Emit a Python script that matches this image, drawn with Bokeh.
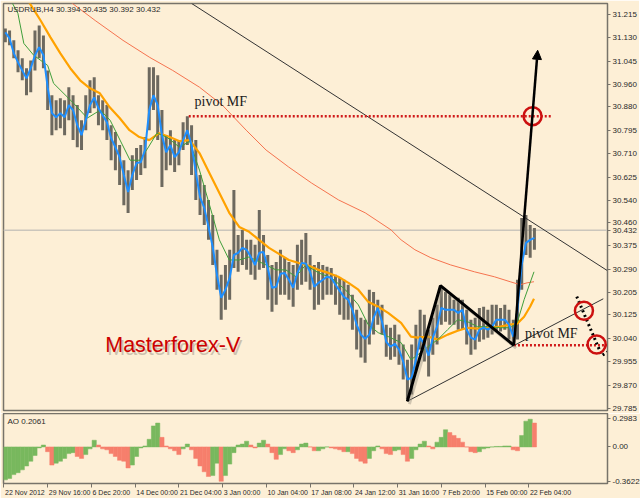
from bokeh.plotting import figure
from bokeh.models import (Range1d, FixedTicker, PrintfTickFormatter, CustomJSTickFormatter,
                          Span, Label, Arrow, NormalHead)
from bokeh.layouts import column
from bokeh.embed import file_html
from bokeh.resources import INLINE

# ---------------- data ----------------
symbol = "USDRUB,H4"
last_open, last_high, last_low, last_close = 30.394, 30.435, 30.392, 30.432
ao_last = 0.2061

# bar index (H4 bars since 22 Nov 2012), one drawn bar every 3 H4 bars
bars = [1 + 3 * i for i in range(126)]

high = [31.164, 31.157, 31.121, 31.085, 31.056, 31.020, 31.048, 31.157, 31.175, 31.139,
        31.012, 30.922, 30.904, 30.911, 30.904, 30.951, 30.922, 30.886, 30.831, 30.922,
        30.976, 30.987, 30.922, 30.904, 30.886, 30.813, 30.788, 30.741, 30.686, 30.650,
        30.704, 30.730, 30.741, 30.770, 31.023, 31.023, 30.994, 30.868, 30.777, 30.795,
        30.759, 30.759, 30.824, 30.846, 30.813, 30.759, 30.632, 30.596, 30.542, 30.487,
        30.361, 30.270, 30.306, 30.361, 30.578, 30.415, 30.433, 30.397, 30.397, 30.379,
        30.505, 30.415, 30.342, 30.306, 30.317, 30.361, 30.332, 30.317, 30.306, 30.379,
        30.397, 30.422, 30.342, 30.306, 30.317, 30.306, 30.299, 30.295, 30.270, 30.259,
        30.252, 30.234, 30.198, 30.143, 30.114, 30.107, 30.216, 30.208, 30.180, 30.161,
        30.089, 30.078, 30.089, 30.053, 30.017, 29.962, 30.017, 30.089, 30.143, 30.125,
        30.071, 30.114, 30.161, 30.227, 30.208, 30.198, 30.180, 30.187, 30.180, 30.143,
        30.107, 30.114, 30.150, 30.154, 30.143, 30.161, 30.161, 30.150, 30.161, 30.143,
        30.107, 30.252, 30.476, 30.487, 30.451, 30.440]

low = [31.114, 31.103, 31.056, 31.005, 30.976, 30.922, 30.933, 31.012, 31.056, 31.020,
       30.868, 30.777, 30.795, 30.802, 30.777, 30.831, 30.759, 30.733, 30.723, 30.795,
       30.857, 30.875, 30.813, 30.795, 30.759, 30.686, 30.650, 30.596, 30.523, 30.494,
       30.578, 30.614, 30.632, 30.657, 30.795, 30.868, 30.759, 30.589, 30.650, 30.668,
       30.643, 30.668, 30.723, 30.741, 30.632, 30.542, 30.487, 30.451, 30.397, 30.306,
       30.216, 30.107, 30.143, 30.180, 30.295, 30.281, 30.306, 30.288, 30.270, 30.252,
       30.288, 30.295, 30.180, 30.136, 30.161, 30.198, 30.198, 30.180, 30.154, 30.216,
       30.234, 30.245, 30.216, 30.143, 30.161, 30.180, 30.198, 30.198, 30.161, 30.125,
       30.107, 30.107, 30.071, 29.999, 29.970, 29.951, 30.017, 30.053, 30.089, 30.053,
       29.973, 29.962, 29.973, 29.944, 29.890, 29.818, 29.836, 29.919, 29.999, 29.955,
       29.901, 29.980, 30.017, 30.089, 30.100, 30.089, 30.089, 30.071, 30.071, 30.017,
       29.980, 29.999, 30.027, 30.035, 30.042, 30.053, 30.064, 30.064, 30.071, 30.035,
       30.017, 30.035, 30.216, 30.342, 30.332, 30.361]

ma_fast = [31.150, 31.128, 31.074, 31.041, 31.012, 30.983, 31.020, 31.067, 31.096, 31.067,
           30.951, 30.857, 30.842, 30.857, 30.842, 30.886, 30.868, 30.813, 30.777, 30.831,
           30.886, 30.914, 30.875, 30.849, 30.824, 30.766, 30.733, 30.697, 30.632, 30.571,
           30.632, 30.676, 30.679, 30.723, 30.868, 30.922, 30.886, 30.777, 30.715, 30.741,
           30.697, 30.715, 30.759, 30.795, 30.741, 30.643, 30.552, 30.513, 30.444, 30.371,
           30.270, 30.187, 30.216, 30.259, 30.342, 30.350, 30.368, 30.361, 30.335, 30.306,
           30.350, 30.353, 30.295, 30.223, 30.227, 30.274, 30.277, 30.252, 30.223, 30.277,
           30.313, 30.310, 30.281, 30.227, 30.241, 30.252, 30.263, 30.259, 30.234, 30.212,
           30.190, 30.180, 30.143, 30.089, 30.053, 30.038, 30.053, 30.114, 30.150, 30.100,
           30.027, 30.009, 30.020, 29.999, 29.955, 29.890, 29.897, 29.962, 30.042, 30.017,
           29.977, 30.042, 30.082, 30.150, 30.143, 30.143, 30.143, 30.132, 30.143, 30.071,
           30.042, 30.035, 30.071, 30.078, 30.071, 30.082, 30.107, 30.107, 30.107, 30.089,
           30.046, 30.143, 30.306, 30.386, 30.397, 30.404]

ma_mid_x = [4.9, 9.9, 14.1, 21.1, 31, 35.2, 45, 49.3, 59.1, 68.3,
            75.3, 82.3, 89.4, 96.4, 102, 108.4, 115.4, 124.5, 131.6, 138.6,
            145.7, 152.7, 159.7, 166.8, 173.8, 182.9, 192.8, 199.8, 206.9, 213.9,
            223, 232.2, 242, 251.2, 258.2, 265.3, 272.3, 281.5, 288.5, 295.5,
            300.5, 307.5, 314.5, 321.6, 328.6, 335.6, 342.7, 351.8, 358.8, 363.8,
            368.7, 375.7]
ma_mid_y = [31.266, 31.219, 31.110, 31.067, 31.030, 30.965, 30.915, 30.893, 30.839, 30.868,
            30.831, 30.759, 30.686, 30.686, 30.730, 30.784, 30.770, 30.733, 30.755, 30.650,
            30.524, 30.397, 30.324, 30.324, 30.335, 30.313, 30.288, 30.288, 30.263, 30.306,
            30.277, 30.259, 30.216, 30.161, 30.089, 30.060, 30.046, 30.024, 29.962, 29.988,
            30.009, 30.035, 30.071, 30.107, 30.100, 30.082, 30.082, 30.078, 30.078, 30.096,
            30.180, 30.281]

ma_slow_x = [17, 26, 33, 40, 47, 54, 61, 68, 75, 82,
             89, 96, 103, 110, 117.5, 124.5, 131.6, 138.6, 145.7, 152.7,
             159.7, 166.8, 173.8, 180.8, 187.9, 194.9, 201.9, 209, 216, 223,
             230, 237, 244.2, 251.2, 258.2, 265.3, 272.3, 281.5, 288.5, 293.4,
             300.5, 307.5, 314.5, 321.6, 328.6, 335.6, 342.7, 351.8, 358.8, 363.8,
             368.7, 372.9, 375.7]
ma_slow_y = [31.266, 31.193, 31.132, 31.074, 31.020, 30.976, 30.947, 30.929, 30.878, 30.839,
             30.795, 30.770, 30.759, 30.784, 30.770, 30.755, 30.759, 30.712, 30.639, 30.567,
             30.495, 30.444, 30.426, 30.397, 30.368, 30.346, 30.324, 30.313, 30.303, 30.288,
             30.277, 30.263, 30.241, 30.216, 30.172, 30.154, 30.132, 30.096, 30.046, 30.042,
             30.046, 30.035, 30.053, 30.067, 30.078, 30.075, 30.078, 30.082, 30.089, 30.093,
             30.118, 30.154, 30.183]

ma_long_x = [45.7, 64.7, 84.4, 103.4, 119.6, 138.6, 154.8, 171.7, 185.8, 201.9,
             218.1, 237.1, 256.1, 274.4, 281.5, 291.3, 302.6, 316.6, 333.5, 347.6,
             358.8, 365.9, 370.8, 375.7]
ma_long_y = [31.266, 31.193, 31.121, 31.059, 31.012, 30.951, 30.886, 30.795, 30.723, 30.661,
             30.603, 30.542, 30.495, 30.433, 30.397, 30.361, 30.332, 30.306, 30.281, 30.263,
             30.245, 30.234, 30.241, 30.245]

ao = [-0.345, -0.33, -0.29, -0.27, -0.24, -0.20, -0.15, -0.09, -0.01, 0.02,
      -0.05, -0.19, -0.17, -0.15, -0.12, -0.07, -0.06, -0.10, -0.12, -0.08,
      -0.02, 0.07, 0.02, -0.02, -0.03, -0.07, -0.10, -0.14, -0.15, -0.22,
      -0.19, -0.10, -0.01, 0.01, 0.08, 0.22, 0.25, 0.10, 0.01, -0.02,
      -0.04, -0.08, -0.02, 0.03, -0.03, -0.12, -0.20, -0.26, -0.31, -0.30,
      -0.17, -0.36, -0.30, -0.18, -0.06, 0.02, 0.03, 0.06, 0.02, -0.01,
      0.04, 0.07, 0.03, -0.06, -0.13, -0.08, -0.02, -0.04, -0.06, -0.03,
      0.03, 0.04, 0.00, -0.04, -0.04, -0.02, 0.00, -0.01, -0.02, -0.03,
      -0.05, -0.05, -0.07, -0.12, -0.15, -0.17, -0.12, -0.04, 0.01, -0.02,
      -0.07, -0.08, -0.04, -0.03, -0.08, -0.15, -0.12, -0.03, 0.03, 0.06,
      0.01, -0.02, 0.05, 0.10, 0.18, 0.15, 0.12, 0.09, 0.05, 0.00,
      -0.05, -0.06, -0.05, -0.02, -0.01, 0.00, 0.005, 0.005, 0.01, 0.01,
      -0.03, -0.04, 0.12, 0.27, 0.29, 0.25]

price_ticks = [31.215, 31.130, 31.045, 30.960, 30.880, 30.795, 30.710, 30.625, 30.540,
               30.460, 30.375, 30.290, 30.205, 30.125, 30.040, 29.955, 29.870, 29.785]
ao_ticks = [0.2983, 0.0, -0.3622]
time_tick_bars = [0, 31, 62, 93, 124, 155, 186, 217, 248, 279, 310, 341, 372]
time_tick_labels = ["22 Nov 2012", "29 Nov 16:00", "6 Dec 20:00", "14 Dec 00:00",
                    "21 Dec 04:00", "3 Jan 00:00", "10 Jan 04:00", "17 Jan 08:00",
                    "24 Jan 12:00", "31 Jan 16:00", "7 Feb 20:00", "15 Feb 00:00",
                    "22 Feb 04:00"]

# drawn objects (bar index, price)
pivot_top = 30.846
pivot_top_bars = [131, 388.4]
pivot_low = 30.014
pivot_low_bars = [361.5, 427.8]
down_trend_x, down_trend_y = [133.0, 427.8], [31.255, 30.285]
up_trend_x, up_trend_y = [285.9, 424.8], [29.811, 30.183]
zigzag_x, zigzag_y = [285.9, 309.4, 361.5], [29.811, 30.231, 30.014]
arrow_up = (361.5, 30.014, 378.3, 31.085)
circles_x, circles_y = [374.7, 411.1, 420.1], [30.846, 30.140, 30.017]
dots_x, dots_y = [406.0, 423.8, 427.8], [30.191, 29.977, 29.990]

# ---------------- styling ----------------
BG = "#fdefd6"
FRAME = "#77736a"
TXT = "#2a2a2a"
FONT = "Liberation Sans"

X0, X1 = -0.3, 427.8
xr = Range1d(X0, X1)
PRICE_LO, PRICE_HI = 29.7776, 31.2548
FRAME_W, PRICE_H, AO_H = 604, 407, 70
PX_PER_BAR = FRAME_W / (X1 - X0)

p = figure(frame_width=FRAME_W, frame_height=PRICE_H, x_range=xr,
           y_range=Range1d(PRICE_LO, PRICE_HI),
           x_axis_location=None, y_axis_location="right", toolbar_location=None,
           output_backend="svg", min_border_left=3, min_border_top=3, min_border_bottom=3,
           min_border_right=0, background_fill_color=BG, border_fill_color=BG,
           outline_line_color=FRAME, outline_line_width=1.5)
p.grid.visible = False
ya = p.yaxis[0]
# the current-price tag sits on the price scale next to the regular ticks
ya.ticker = FixedTicker(ticks=price_ticks + [last_close])
ya.formatter = PrintfTickFormatter(format="%.3f")
ya.major_label_text_font = FONT
ya.major_label_text_font_size = "8px"
ya.major_label_text_color = TXT
ya.major_tick_out = 3
ya.major_tick_in = 0
ya.minor_tick_out = 0
ya.minor_tick_in = 0
ya.major_label_standoff = 2
ya.axis_line_color = FRAME
ya.major_tick_line_color = FRAME

# current price line
p.add_layout(Span(location=last_close, dimension="width", line_color="#cbc6bc",
                  line_width=1.5, level="underlay"))

# price bars
p.segment(x0=bars, y0=low, x1=bars, y1=high, line_color="#6d695f", line_width=3.0)

# moving averages
p.line(ma_long_x, ma_long_y, line_color="#f5734f", line_width=1)
p.line(ma_slow_x, ma_slow_y, line_color="#ffa200", line_width=2.2)
p.line(ma_mid_x, ma_mid_y, line_color="#3f9e3a", line_width=1)
p.line(bars, ma_fast, line_color="#1e8fff", line_width=2)

# trend lines
p.line(down_trend_x, down_trend_y, line_color="#333333", line_width=1)
p.line(up_trend_x, up_trend_y, line_color="#333333", line_width=1)

# pivot lines
p.line(pivot_top_bars, [pivot_top, pivot_top], line_color="#d01a1a", line_width=2.5,
       line_dash="2 2")
p.line(pivot_low_bars, [pivot_low, pivot_low], line_color="#d01a1a", line_width=2.5,
       line_dash="2 2")

# zigzag + arrow (with soft shadow)
p.line([x + 1.5 for x in zigzag_x], [y - 0.010 for y in zigzag_y], line_color="#9c9486",
       line_width=3, line_alpha=0.45)
p.line(zigzag_x, zigzag_y, line_color="black", line_width=3)
p.add_layout(Arrow(end=NormalHead(size=9, fill_color="black", line_color="black"),
                   x_start=arrow_up[0], y_start=arrow_up[1], x_end=arrow_up[2], y_end=arrow_up[3],
                   line_color="black", line_width=2.5))

# black dotted path
p.line(dots_x, dots_y, line_color="black", line_width=3, line_dash="2 3")

# red circles
p.scatter(circles_x, circles_y, marker="circle", size=18, fill_alpha=0,
          line_color="#cc1010", line_width=2.5)

# texts
p.add_layout(Label(x=2.5, y=31.249, text=f"{symbol}  {last_open:.3f} {last_high:.3f} {last_low:.3f} {last_close:.3f}",
                   text_font=FONT, text_font_size="8px", text_color=TXT, text_baseline="top"))
p.add_layout(Label(x=135.1, y=30.871, text="pivot MF", text_font="Liberation Serif",
                   text_font_size="14px", text_color="#1a1a1a"))
p.add_layout(Label(x=369.4, y=30.031, text="pivot MF", text_font="Liberation Serif",
                   text_font_size="14px", text_color="#1a1a1a"))
p.add_layout(Label(x=71.8, y=29.970, x_offset=2, y_offset=-3, text="Masterforex-V",
                   text_font=FONT, text_font_size="21.5px", text_color="#9c9486", text_alpha=0.5))
p.add_layout(Label(x=71.8, y=29.970, text="Masterforex-V", text_font=FONT,
                   text_font_size="21.5px", text_color="#cc0000"))

# ---------------- AO panel ----------------
q = figure(frame_width=FRAME_W, frame_height=AO_H, x_range=xr, y_range=Range1d(-0.383, 0.35),
           y_axis_location="right", toolbar_location=None, output_backend="svg",
           min_border_left=3, min_border_top=0, min_border_bottom=0, min_border_right=0,
           background_fill_color=BG, border_fill_color=BG,
           outline_line_color=FRAME, outline_line_width=1.5)
q.grid.visible = False
ao_colors = ["#78b85e" if (i == 0 or ao[i] >= ao[i - 1]) else "#f67f6c" for i in range(len(ao))]
q.vbar(x=bars, top=ao, bottom=0, width=3, fill_color=ao_colors, line_color=ao_colors,
       line_width=0.5)
q.add_layout(Label(x=2.5, y=0.31, text=f"AO {ao_last:.4f}", text_font=FONT,
                   text_font_size="8px", text_color=TXT, text_baseline="top"))

qa = q.yaxis[0]
qa.ticker = FixedTicker(ticks=ao_ticks)
qa.formatter = CustomJSTickFormatter(code="return tick == 0 ? '0.00' : tick.toFixed(4);")

# time axis: MT4 writes each date to the right of its tick mark.  Labels are centred by
# Bokeh, so the label anchors sit half a label width to the right of the real ticks,
# which are drawn as minor ticks.
TIME_FONT_PX = 7
CHAR_W = {" ": 0.278, ":": 0.278, "N": 0.722, "D": 0.722, "J": 0.5, "F": 0.611,
          "o": 0.556, "v": 0.5, "e": 0.556, "c": 0.5, "a": 0.556, "n": 0.556, "b": 0.556}
def label_width_px(s):
    return sum(CHAR_W.get(ch, 0.556) for ch in s) * TIME_FONT_PX
label_anchor = [b + 0.8 + label_width_px(s) / 2 / PX_PER_BAR
                for b, s in zip(time_tick_bars, time_tick_labels)]

qx = q.xaxis[0]
qx.ticker = FixedTicker(ticks=label_anchor, minor_ticks=time_tick_bars)
qx.formatter = CustomJSTickFormatter(
    args=dict(anchors=label_anchor, labels=time_tick_labels),
    code="""let k = 0;
for (let j = 1; j < anchors.length; j++) {
  if (Math.abs(anchors[j] - tick) < Math.abs(anchors[k] - tick)) k = j;
}
return labels[k];""")

for ax in (qa, qx):
    ax.major_label_text_font = FONT
    ax.major_label_text_font_size = "8px"
    ax.major_label_text_color = TXT
    ax.major_tick_out = 3
    ax.major_tick_in = 0
    ax.minor_tick_out = 0
    ax.minor_tick_in = 0
    ax.major_label_standoff = 2
    ax.axis_line_color = FRAME
    ax.major_tick_line_color = FRAME
qx.major_label_text_font_size = f"{TIME_FONT_PX}px"
qx.major_tick_out = 0
qx.minor_tick_out = 4
qx.minor_tick_line_color = FRAME
qx.major_label_standoff = 1

layout = column(p, q, spacing=0)
open("out.html", "w").write(file_html(layout, INLINE))
